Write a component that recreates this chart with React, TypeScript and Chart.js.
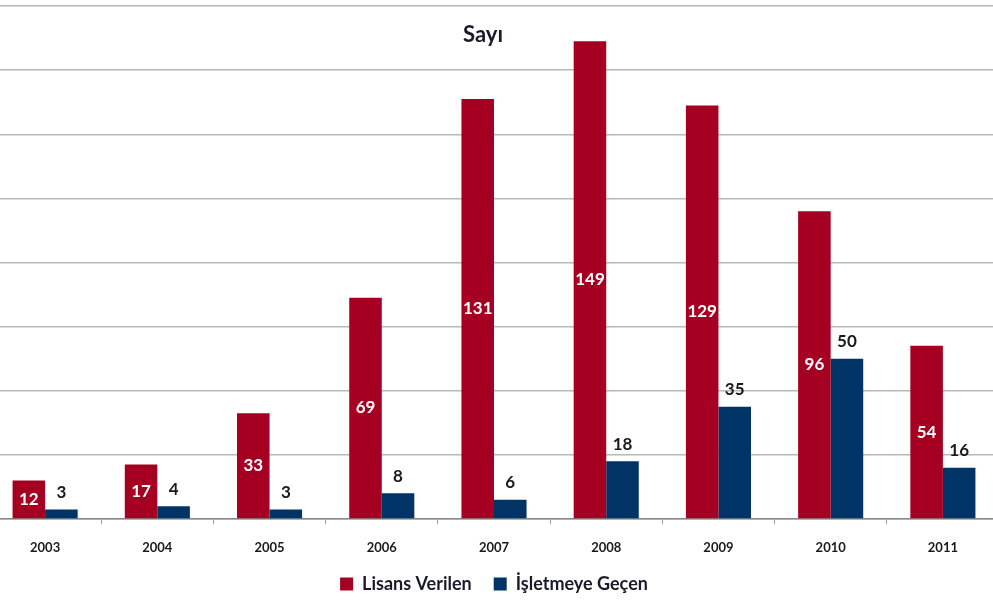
import React, { useEffect, useRef } from "react";
import { Chart, registerables } from "chart.js";

Chart.register(...registerables);

const years = ["2003", "2004", "2005", "2006", "2007", "2008", "2009", "2010", "2011"];
const lisansVerilen = [12, 17, 33, 69, 131, 149, 129, 96, 54];
const isletmeyeGecen = [3, 4, 3, 8, 6, 18, 35, 50, 16];
const seriesNames = ["Lisans Verilen", "İşletmeye Geçen"];
const chartTitle = "Sayı";

const RED = "#A50021";
const BLUE = "#003366";
const FONT = "Lato, 'Open Sans', sans-serif";

const labelPlugin = {
  id: "barLabels",
  afterDatasetsDraw(chart: any) {
    const ctx = chart.ctx;
    ctx.save();
    ctx.font = `bold 17px ${FONT}`;
    ctx.textAlign = "center";
    ctx.textBaseline = "middle";
    chart.data.datasets.forEach((ds: any, di: number) => {
      const meta = chart.getDatasetMeta(di);
      meta.data.forEach((bar: any, i: number) => {
        const v = ds.data[i];
        if (di === 0) {
          ctx.fillStyle = "#ffffff";
          ctx.fillText(String(v), bar.x, (bar.y + bar.base) / 2);
        } else {
          ctx.fillStyle = "#1a1a1a";
          ctx.fillText(String(v), bar.x, bar.y - 17);
        }
      });
    });
    ctx.restore();
  },
};

const titlePlugin = {
  id: "innerTitle",
  afterDraw(chart: any) {
    const ctx = chart.ctx;
    const a = chart.chartArea;
    ctx.save();
    ctx.font = `bold 22px ${FONT}`;
    ctx.fillStyle = "#1a1a2a";
    ctx.textAlign = "center";
    ctx.textBaseline = "middle";
    ctx.fillText(chartTitle, (a.left + a.right) / 2 - 11, a.top + 29);
    ctx.restore();
  },
};

export default function App() {
  const ref = useRef<HTMLCanvasElement>(null);
  useEffect(() => {
    const chart = new Chart(ref.current as HTMLCanvasElement, {
      type: "bar",
      data: {
        labels: years,
        datasets: [
          { label: seriesNames[0], data: lisansVerilen, backgroundColor: RED, categoryPercentage: 0.58, barPercentage: 1 },
          { label: seriesNames[1], data: isletmeyeGecen, backgroundColor: BLUE, categoryPercentage: 0.58, barPercentage: 1 },
        ],
      },
      options: {
        animation: false,
        responsive: false,
        maintainAspectRatio: false,
        layout: { padding: { top: 6, left: 0, right: 0, bottom: -3 } },
        scales: {
          x: {
            grid: { display: true, drawOnChartArea: false, drawTicks: true, tickLength: 5, color: "#999" },
            border: { display: true, color: "#888", width: 1.5 },
            ticks: { color: "#1a1a1a", font: { family: FONT, size: 13, weight: "bold" }, padding: 16 },
            afterFit(scale: any) {
              scale.height = 34;
            },
          },
          y: {
            min: 0,
            max: 160,
            ticks: { display: false, stepSize: 20 },
            grid: { drawTicks: false, color: "#b8b8b8", lineWidth: 1.5 },
            border: { display: false },
          },
        },
        plugins: {
          legend: {
            position: "bottom",
            labels: {
              boxWidth: 13,
              boxHeight: 13,
              padding: 22,
              color: "#1a1a2a",
              font: { family: FONT, size: 18, weight: "bold" },
            },
          },
          title: { display: false },
          tooltip: { enabled: false },
        },
      },
      plugins: [labelPlugin, titlePlugin],
    } as any);
    return () => chart.destroy();
  }, []);
  return (
    <div style={{ position: "fixed", left: 0, top: 0, width: 993, height: 600, overflow: "hidden", background: "#fff" }}>
      <div style={{ position: "absolute", left: -11, top: 0, width: 1010, height: 600 }}>
        <canvas ref={ref} width={1010} height={600} style={{ display: "block" }} />
      </div>
    </div>
  );
}
